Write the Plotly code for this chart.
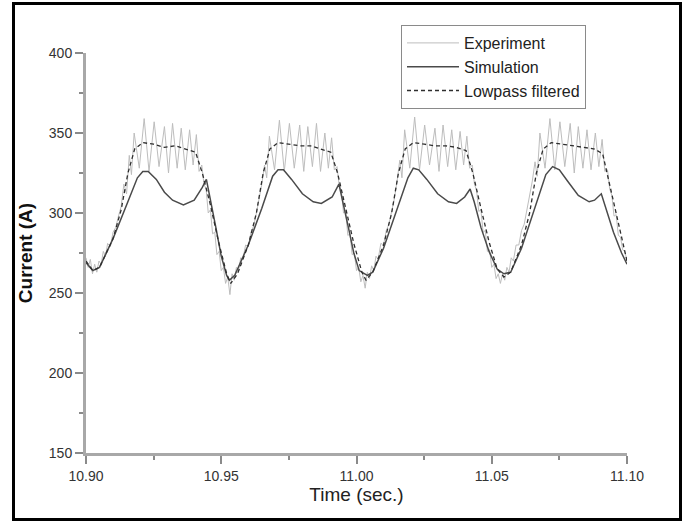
import plotly.graph_objects as go

# ---------------- data ----------------
x_tickvals = [10.90, 10.95, 11.00, 11.05, 11.10]
x_ticktext = ["10.90", "10.95", "11.00", "11.05", "11.10"]
y_tickvals = [150, 200, 250, 300, 350, 400]

exp_t = [
    10.9000, 10.9008, 10.9016, 10.9024, 10.9032, 10.9040, 10.9048, 10.9056, 10.9064, 10.9072,
    10.9080, 10.9090, 10.9100, 10.9110, 10.9120, 10.9130, 10.9140, 10.9150, 10.9160, 10.9168,
    10.9178, 10.9197, 10.9215, 10.9233, 10.9252, 10.9270, 10.9290, 10.9305, 10.9320, 10.9337,
    10.9352, 10.9367, 10.9383, 10.9396, 10.9408, 10.9418, 10.9428, 10.9436, 10.9444, 10.9452,
    10.9460, 10.9468, 10.9476, 10.9484, 10.9492, 10.9500, 10.9508, 10.9516, 10.9524, 10.9532,
    10.9540,
    10.9548, 10.9556, 10.9564, 10.9572, 10.9580, 10.9590, 10.9600, 10.9610, 10.9620, 10.9630,
    10.9640, 10.9650, 10.9660, 10.9668, 10.9678, 10.9697, 10.9715, 10.9733, 10.9752, 10.9770,
    10.9790, 10.9805, 10.9820, 10.9837, 10.9852, 10.9867, 10.9883, 10.9896, 10.9908, 10.9918,
    10.9928, 10.9936, 10.9944, 10.9952, 10.9960, 10.9968, 10.9976, 10.9984, 10.9992, 11.0000,
    11.0008, 11.0016, 11.0024, 11.0032, 11.0040,
    11.0048, 11.0056, 11.0064, 11.0072, 11.0080, 11.0090, 11.0100, 11.0110, 11.0120, 11.0130,
    11.0140, 11.0150, 11.0160, 11.0168, 11.0178, 11.0197, 11.0215, 11.0233, 11.0252, 11.0270,
    11.0290, 11.0305, 11.0320, 11.0337, 11.0352, 11.0367, 11.0383, 11.0396, 11.0408, 11.0418,
    11.0428, 11.0436, 11.0444, 11.0452, 11.0460, 11.0468, 11.0476, 11.0484, 11.0492, 11.0500,
    11.0508, 11.0516, 11.0524, 11.0532, 11.0540,
    11.0548, 11.0556, 11.0564, 11.0572, 11.0580, 11.0590, 11.0600, 11.0610, 11.0620, 11.0630,
    11.0640, 11.0650, 11.0660, 11.0668, 11.0678, 11.0697, 11.0715, 11.0733, 11.0752, 11.0770,
    11.0790, 11.0805, 11.0820, 11.0837, 11.0852, 11.0867, 11.0883, 11.0896, 11.0908, 11.0918,
    11.0928, 11.0936, 11.0944, 11.0952, 11.0960, 11.0968, 11.0976, 11.0984, 11.0992, 11.1000,
]
exp_v = [
    272, 266, 271, 262, 268, 263, 270, 268, 276, 273,
    281, 279, 288, 291, 298, 304, 318, 312, 336, 324,
    350, 328, 359, 326, 357, 329, 354, 325, 356, 328,
    353, 327, 352, 330, 349, 326, 330, 318, 315, 300,
    302, 287, 288, 274, 276, 264, 266, 256, 260, 249,
    262,
    258, 266, 264, 272, 271, 280, 279, 288, 292, 300,
    308, 318, 330, 322, 348, 327, 358, 326, 356, 328,
    355, 326, 354, 329, 356, 326, 350, 328, 347, 327,
    329, 317, 314, 300, 301, 286, 287, 274, 275, 264,
    266, 257, 261, 253, 263,
    259, 267, 264, 273, 271, 281, 280, 289, 293, 301,
    309, 320, 333, 322, 352, 328, 360, 327, 355, 330,
    353, 326, 355, 329, 352, 327, 351, 330, 348, 328,
    330, 318, 314, 301, 302, 288, 289, 276, 277, 266,
    268, 259, 262, 256, 262,
    258, 266, 263, 272, 270, 280, 280, 289, 293, 302,
    310, 320, 332, 323, 350, 328, 359, 327, 357, 329,
    356, 325, 354, 328, 352, 327, 350, 329, 346, 326,
    327, 315, 311, 298, 299, 286, 285, 277, 276, 270,
]

sim_t = [
    10.900, 10.9025, 10.905, 10.910, 10.915, 10.919, 10.921, 10.923, 10.926, 10.929,
    10.932, 10.936, 10.940, 10.943, 10.9445, 10.946, 10.948, 10.950, 10.952, 10.953, 10.955,
    10.960, 10.965, 10.969, 10.971, 10.973, 10.976, 10.980, 10.984, 10.987, 10.991,
    10.9935, 10.995, 10.997, 10.999, 11.001, 11.004, 11.006,
    11.010, 11.015, 11.019, 11.021, 11.023, 11.026, 11.030, 11.034, 11.037, 11.040,
    11.042, 11.0435, 11.046, 11.049, 11.052, 11.0545, 11.057,
    11.061, 11.066, 11.070, 11.0725, 11.075, 11.078, 11.082, 11.086, 11.088, 11.0905,
    11.092, 11.095, 11.098, 11.100,
]
sim_v = [
    269, 264, 266, 284, 305, 322, 326, 326, 321, 313,
    308, 305, 308, 316, 321, 309, 291, 273, 261, 258, 261,
    280, 303, 323, 327, 327, 321, 312, 307, 306, 310,
    318, 307, 291, 275, 264, 261, 263,
    278, 302, 322, 328, 327, 321, 312, 307, 306, 310,
    315, 307, 291, 276, 265, 262, 263,
    278, 303, 324, 329, 327, 320, 311, 307, 308, 312,
    304, 288, 275, 268,
]

flt_t = [
    10.900, 10.9025, 10.905, 10.910, 10.913, 10.9155, 10.918, 10.921, 10.925, 10.929,
    10.933, 10.937, 10.9405, 10.943, 10.946, 10.949, 10.952, 10.9535, 10.956,
    10.960, 10.963, 10.9655, 10.968, 10.971, 10.975, 10.979, 10.983, 10.987, 10.9905,
    10.993, 10.996, 10.999, 11.002, 11.0035, 11.006,
    11.010, 11.013, 11.0155, 11.018, 11.021, 11.025, 11.029, 11.033, 11.037, 11.0405,
    11.043, 11.046, 11.049, 11.052, 11.0545, 11.057,
    11.061, 11.064, 11.0665, 11.069, 11.072, 11.076, 11.080, 11.084, 11.088, 11.091,
    11.093, 11.096, 11.099, 11.100,
]
flt_v = [
    270, 264, 266, 284, 302, 325, 340, 344, 343, 341,
    342, 340, 338, 325, 305, 282, 262, 256, 262,
    280, 300, 325, 340, 344, 343, 342, 342, 340, 338,
    325, 303, 281, 263, 258, 263,
    280, 300, 325, 340, 344, 343, 342, 342, 341, 339,
    325, 303, 282, 265, 260, 263,
    280, 300, 325, 340, 344, 343, 342, 341, 340, 337,
    322, 300, 278, 270,
]

# ---------------- figure ----------------
FONT = "Liberation Sans, Arial, sans-serif"
fig = go.Figure()
fig.add_trace(go.Scatter(x=exp_t, y=exp_v, mode="lines", name="Experiment",
                         line=dict(color="#bdbdbd", width=1)))
fig.add_trace(go.Scatter(x=sim_t, y=sim_v, mode="lines", name="Simulation",
                         line=dict(color="#4a4a4a", width=1.5)))
fig.add_trace(go.Scatter(x=flt_t, y=flt_v, mode="lines", name="Lowpass filtered",
                         line=dict(color="#2e2e2e", width=1.3, dash="4px,3px")))

L, R, T, B = 86, 59, 53, 70
W, H = 686, 523
pw, ph = W - L - R, H - T - B

def px(x):
    return (x - L) / pw

def py(y):
    return (H - B - y) / ph

fig.add_shape(type="rect", xref="paper", yref="paper",
              x0=px(13.5), x1=px(680.5), y0=py(519.5), y1=py(3.5),
              line=dict(color="black", width=3), fillcolor="rgba(0,0,0,0)")

axis_common = dict(showline=True, linecolor="#a8a8a8", linewidth=3,
                   ticks="outside", ticklen=8, tickwidth=1.5, tickcolor="#8a8a8a",
                   showgrid=False, zeroline=False,
                   tickfont=dict(family=FONT, size=14, color="#333333"))

fig.update_layout(
    width=W, height=H,
    margin=dict(l=L, r=R, t=T, b=B, autoexpand=False),
    paper_bgcolor="white", plot_bgcolor="white",
    font=dict(family=FONT, color="#222222"),
    xaxis=dict(range=[10.90, 11.10], tickvals=x_tickvals, ticktext=x_ticktext,
               minor=dict(ticks="outside", dtick=0.025, tick0=10.90, ticklen=4,
                          tickcolor="#8a8a8a", tickwidth=1.5),
               title=dict(text="Time (sec.)", font=dict(family=FONT, size=19, color="#222222"),
                          standoff=5),
               **axis_common),
    yaxis=dict(range=[150, 400], tickvals=y_tickvals,
               minor=dict(ticks="outside", dtick=25, tick0=150, ticklen=4,
                          tickcolor="#8a8a8a", tickwidth=1.5),
               title=dict(text="<b>Current (A)</b>", font=dict(family=FONT, size=19, color="#111111"),
                          standoff=12),
               **axis_common),
    legend=dict(x=px(401), y=py(25), xanchor="left", yanchor="top",
                bgcolor="white", bordercolor="#8a8a8a", borderwidth=1,
                font=dict(family=FONT, size=16, color="#222222"),
                itemwidth=52, entrywidth=186,
                tracegroupgap=0),
    showlegend=True,
)

fig.write_html("out.html", config={"displayModeBar": False},
               post_script="document.body.style.margin='0';document.body.style.overflow='hidden';")
